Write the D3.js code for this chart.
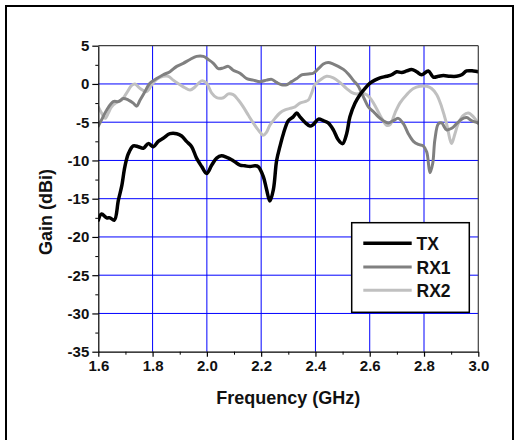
<!DOCTYPE html>
<html>
<head>
<meta charset="utf-8">
<script src="https://cdn.jsdelivr.net/npm/d3@7"></script>
<style>
  html, body { margin: 0; padding: 0; background: #fff; }
  svg text { font-family: "Liberation Sans", Arial, sans-serif; font-weight: bold; }
</style>
</head>
<body>
<svg id="chart" width="515" height="440"></svg>
<script>
const xTicks = [1.6, 1.8, 2.0, 2.2, 2.4, 2.6, 2.8, 3.0];
const yTicks = [5, 0, -5, -10, -15, -20, -25, -30, -35];
const seriesNames = ["TX", "RX1", "RX2"];
const seriesColors = ["#000000", "#808080", "#c0c0c0"];

const txFreq = [1.600,1.612,1.631,1.643,1.659,1.674,1.686,1.698,1.711,1.729,1.747,1.766,1.784,1.803,1.821,1.839,1.864,1.889,1.907,1.925,1.944,1.962,1.981,1.999,2.018,2.036,2.054,2.073,2.091,2.104,2.122,2.140,2.159,2.177,2.189,2.208,2.220,2.232,2.245,2.257,2.269,2.282,2.300,2.318,2.331,2.343,2.361,2.380,2.392,2.411,2.429,2.447,2.466,2.484,2.500,2.515,2.527,2.546,2.564,2.582,2.601,2.619,2.638,2.662,2.681,2.699,2.718,2.736,2.754,2.773,2.791,2.816,2.834,2.853,2.871,2.896,2.920,2.939,2.957,2.982,3.000];
const txGain = [-17.8,-17.0,-17.5,-17.5,-17.8,-15.2,-13.4,-10.8,-9.1,-8.1,-8.2,-8.4,-7.8,-8.2,-7.5,-7.1,-6.5,-6.5,-6.8,-7.5,-8.2,-9.7,-10.8,-11.7,-10.6,-9.7,-9.4,-9.6,-9.9,-10.2,-10.6,-10.7,-10.8,-10.7,-10.8,-12.1,-13.8,-15.3,-13.8,-10.0,-8.2,-6.5,-4.8,-4.3,-3.8,-4.3,-5.0,-5.5,-5.3,-4.6,-4.8,-5.1,-6.0,-7.3,-7.8,-6.5,-4.3,-2.5,-1.4,-0.6,0.1,0.5,0.8,1.0,1.2,1.6,1.5,1.7,1.9,1.6,1.2,1.7,0.9,1.0,1.1,1.0,1.0,1.2,1.7,1.7,1.6];

const rx1Freq = [1.600,1.612,1.631,1.655,1.674,1.692,1.711,1.729,1.741,1.754,1.772,1.790,1.815,1.839,1.864,1.889,1.913,1.938,1.962,1.987,2.005,2.024,2.042,2.061,2.079,2.097,2.122,2.147,2.171,2.196,2.220,2.239,2.257,2.275,2.294,2.312,2.331,2.349,2.374,2.392,2.411,2.429,2.447,2.466,2.484,2.503,2.521,2.539,2.558,2.570,2.582,2.595,2.613,2.632,2.650,2.668,2.687,2.705,2.724,2.742,2.761,2.779,2.797,2.810,2.822,2.832,2.840,2.853,2.865,2.883,2.902,2.920,2.939,2.957,2.975,3.000];
const rx1Gain = [-5.5,-4.7,-3.4,-2.3,-2.3,-1.9,-2.1,-2.5,-2.9,-2.1,-1.0,0.1,0.7,1.2,1.6,2.3,2.7,3.2,3.6,3.6,3.2,2.7,2.0,2.1,2.3,1.8,1.4,0.7,0.5,0.3,0.5,0.6,0.2,-0.1,-0.1,0.3,0.7,1.2,1.3,1.4,2.0,2.6,2.8,2.6,2.3,1.9,1.3,0.5,-0.3,-1.2,-2.1,-3.0,-3.6,-4.3,-4.8,-5.1,-4.8,-4.5,-5.2,-6.5,-7.5,-7.9,-8.1,-8.9,-11.6,-10.4,-7.3,-5.2,-5.1,-6.0,-5.8,-5.2,-4.6,-4.4,-4.8,-5.1];

const rx2Freq = [1.600,1.612,1.625,1.637,1.649,1.668,1.686,1.704,1.723,1.735,1.754,1.778,1.797,1.815,1.839,1.858,1.876,1.901,1.919,1.938,1.956,1.981,1.999,2.018,2.036,2.061,2.079,2.097,2.116,2.134,2.153,2.171,2.189,2.208,2.220,2.232,2.251,2.269,2.288,2.306,2.325,2.343,2.361,2.374,2.386,2.398,2.417,2.441,2.466,2.490,2.515,2.533,2.552,2.570,2.589,2.607,2.625,2.644,2.662,2.675,2.693,2.711,2.736,2.761,2.785,2.810,2.828,2.847,2.865,2.883,2.896,2.902,2.914,2.926,2.945,2.963,2.982,3.000];
const rx2Gain = [-3.0,-3.8,-4.5,-3.8,-3.0,-2.4,-2.1,-1.2,-0.2,0.0,-0.6,-1.0,-0.1,0.6,1.0,1.0,0.5,-0.1,-0.5,-0.8,-0.4,0.4,0.1,-1.2,-1.8,-1.8,-1.3,-1.4,-2.1,-3.0,-4.1,-5.1,-6.0,-6.7,-6.3,-5.4,-4.5,-3.8,-3.4,-3.2,-3.0,-2.5,-2.3,-2.1,-1.2,-0.1,0.5,1.0,0.8,0.2,-0.6,-1.1,-1.3,-1.2,-1.4,-2.1,-3.2,-4.5,-5.4,-5.3,-3.8,-2.5,-1.4,-0.6,-0.3,-0.3,-0.6,-1.4,-3.0,-5.2,-7.3,-7.8,-6.5,-5.2,-4.1,-3.8,-4.3,-5.2];

const series = [
  {name: seriesNames[0], color: seriesColors[0], width: 3.5, data: txFreq.map((f, i) => [f, txGain[i]])},
  {name: seriesNames[1], color: seriesColors[1], width: 3, data: rx1Freq.map((f, i) => [f, rx1Gain[i]])},
  {name: seriesNames[2], color: seriesColors[2], width: 3, data: rx2Freq.map((f, i) => [f, rx2Gain[i]])}
];

const svg = d3.select("#chart");
const L = 98.3, R = 478.3, T = 45.7, B = 351.7;
const x = d3.scaleLinear().domain([1.6, 3.0]).range([L, R]);
const y = d3.scaleLinear().domain([-35, 5]).range([B, T]);

// outer frame
svg.append("rect").attr("x", 6).attr("y", 6).attr("width", 507).attr("height", 450)
  .attr("fill", "none").attr("stroke", "#000").attr("stroke-width", 2);

// grid
const grid = svg.append("g");
grid.selectAll("line.gx").data(xTicks.slice(1, -1)).enter().append("line")
  .attr("x1", d => x(d)).attr("x2", d => x(d)).attr("y1", T).attr("y2", B)
  .attr("stroke", "#0000ff").attr("stroke-width", 1);
grid.selectAll("line.gy").data(yTicks.slice(1, -1)).enter().append("line")
  .attr("x1", L).attr("x2", R).attr("y1", d => y(d)).attr("y2", d => y(d))
  .attr("stroke", "#0000ff").attr("stroke-width", 1);

// curves
const line = d3.line().x(d => x(d[0])).y(d => y(d[1])).curve(d3.curveCatmullRom.alpha(0.5));
svg.append("clipPath").attr("id", "clip").append("rect")
  .attr("x", L).attr("y", T).attr("width", R - L).attr("height", B - T);
const plot = svg.append("g").attr("clip-path", "url(#clip)");
[series[2], series[1], series[0]].forEach(s => {
  plot.append("path").attr("d", line(s.data)).attr("fill", "none")
    .attr("stroke", s.color).attr("stroke-width", s.width)
    .attr("stroke-linejoin", "round").attr("stroke-linecap", "round");
});

// plot frame top/right
svg.append("line").attr("x1", L).attr("x2", R).attr("y1", T).attr("y2", T).attr("stroke", "#404040").attr("stroke-width", 1.2);
svg.append("line").attr("x1", R).attr("x2", R).attr("y1", T).attr("y2", B).attr("stroke", "#404040").attr("stroke-width", 1.2);

// axes
const xAxis = d3.axisBottom(x).tickValues(xTicks).tickFormat(d => d.toFixed(1)).tickSize(5).tickSizeOuter(0).tickPadding(4);
const xMinor = d3.axisBottom(x).tickValues(d3.range(1.7, 3.0, 0.2)).tickFormat("").tickSize(3).tickSizeOuter(0);
const yAxis = d3.axisLeft(y).tickValues(yTicks).tickFormat(d => String(d)).tickSize(6).tickSizeOuter(0).tickPadding(3);
const yMinor = d3.axisLeft(y).tickValues(d3.range(-32.5, 5, 5)).tickFormat("").tickSize(3).tickSizeOuter(0);

const gx = svg.append("g").attr("transform", `translate(0,${B})`).call(xAxis);
svg.append("g").attr("transform", `translate(0,${B})`).call(xMinor).select(".domain").remove();
const gy = svg.append("g").attr("transform", `translate(${L},0)`).call(yAxis);
svg.append("g").attr("transform", `translate(${L},0)`).call(yMinor).select(".domain").remove();

[gx, gy].forEach(g => {
  g.select(".domain").attr("stroke", "#000").attr("stroke-width", 1.2);
  g.selectAll(".tick line").attr("stroke", "#000").attr("stroke-width", 1.2);
  g.selectAll("text").attr("font-size", 15).attr("fill", "#111");
});
svg.selectAll(".tick line").attr("stroke", "#000");

// axis titles
svg.append("text").attr("x", (L + R) / 2).attr("y", 404).attr("text-anchor", "middle")
  .attr("font-size", 18).attr("fill", "#111").text("Frequency (GHz)");
svg.append("text").attr("transform", "translate(52,212) rotate(-90)").attr("text-anchor", "middle")
  .attr("font-size", 18).attr("fill", "#111").text("Gain (dBi)");

// legend
const lg = svg.append("g");
lg.append("rect").attr("x", 351.7).attr("y", 222.7).attr("width", 117.6).attr("height", 89.6)
  .attr("fill", "#fff").attr("stroke", "#000").attr("stroke-width", 1.5);
const legY = [243.3, 267, 290.3];
series.forEach((s, i) => {
  lg.append("line").attr("x1", 363.3).attr("x2", 411.7).attr("y1", legY[i]).attr("y2", legY[i])
    .attr("stroke", s.color).attr("stroke-width", s.width);
  lg.append("text").attr("x", 416.5).attr("y", legY[i] + 6.5).attr("font-size", 17.5)
    .attr("fill", "#111").text(s.name);
});
</script>
</body>
</html>
